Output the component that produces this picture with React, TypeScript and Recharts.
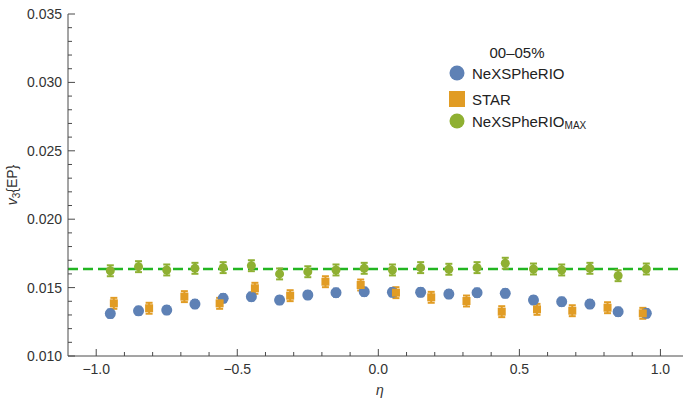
// v3{EP} vs eta, 00-05% centrality — NeXSPheRIO vs STAR (Recharts)
import { ScatterChart, Scatter, XAxis, YAxis, ErrorBar, ReferenceLine } from 'recharts';

const MODEL_ETA = [
  -0.95, -0.85, -0.75, -0.65, -0.55, -0.45, -0.35, -0.25, -0.15, -0.05,
  0.05, 0.15, 0.25, 0.35, 0.45, 0.55, 0.65, 0.75, 0.85, 0.95,
];
const NEXUS_V3 = [
  0.0131, 0.0133, 0.01336, 0.0138, 0.01422, 0.01434, 0.01409, 0.01446, 0.01463, 0.0147,
  0.01466, 0.01466, 0.01453, 0.01463, 0.01458, 0.01409, 0.01397, 0.0138, 0.01324, 0.01312,
];
const NEXUS_ERR = [
  0.0003, 0.0003, 0.0003, 0.0003, 0.0003, 0.0003, 0.0003, 0.0003, 0.0003, 0.0003,
  0.0003, 0.0003, 0.0003, 0.0003, 0.0003, 0.0003, 0.0003, 0.0003, 0.0003, 0.0003,
];
const MAX_V3 = [
  0.01623, 0.01653, 0.01629, 0.01641, 0.01646, 0.0166, 0.016, 0.01616, 0.01629, 0.01641,
  0.01629, 0.01646, 0.01634, 0.01646, 0.01678, 0.01636, 0.01629, 0.01641, 0.01587, 0.01636,
];
const MAX_ERR = [
  0.0004, 0.0004, 0.0004, 0.0004, 0.0004, 0.0004, 0.0004, 0.0004, 0.0004, 0.0004,
  0.0004, 0.0004, 0.0004, 0.0004, 0.0004, 0.0004, 0.0004, 0.0004, 0.0004, 0.0004,
];
const STAR_ETA = [
  -0.9375, -0.8125, -0.6875, -0.5625, -0.4375, -0.3125, -0.1875, -0.0625,
  0.0625, 0.1875, 0.3125, 0.4375, 0.5625, 0.6875, 0.8125, 0.9375,
];
const STAR_V3 = [
  0.01385, 0.01349, 0.01434, 0.01385, 0.01495, 0.01441, 0.01543, 0.01519,
  0.01463, 0.01429, 0.01402, 0.01324, 0.01341, 0.01331, 0.01353, 0.01312,
];
const STAR_ERR = [
  0.0004, 0.0004, 0.0004, 0.0004, 0.0004, 0.0004, 0.0004, 0.0004,
  0.0004, 0.0004, 0.0004, 0.0004, 0.0004, 0.0004, 0.0004, 0.0004,
];
const MAX_MEAN = 0.01636;

const X_TICKS = [
  -1.0, -0.9, -0.8, -0.7, -0.6, -0.5, -0.4, -0.3, -0.2, -0.1, 0,
  0.1, 0.2, 0.3, 0.4, 0.5, 0.6, 0.7, 0.8, 0.9, 1.0,
];
const X_MAJOR = [-1.0, -0.5, 0, 0.5, 1.0];
const Y_TICKS = [
  0.01, 0.011, 0.012, 0.013, 0.014, 0.015, 0.016, 0.017, 0.018, 0.019, 0.02,
  0.021, 0.022, 0.023, 0.024, 0.025, 0.026, 0.027, 0.028, 0.029, 0.03,
  0.031, 0.032, 0.033, 0.034, 0.035,
];
const Y_MAJOR = [0.01, 0.015, 0.02, 0.025, 0.03, 0.035];

const BLUE = '#5e81b5';
const ORANGE = '#e19c24';
const GREEN = '#8fb032';
const LINE_GREEN = '#22b522';
const AXIS = '#4a4a4a';
const FONT = '"Liberation Sans", Arial, sans-serif';

const nexus = MODEL_ETA.map((x, i) => ({ x, y: NEXUS_V3[i], err: NEXUS_ERR[i] }));
const nexusMax = MODEL_ETA.map((x, i) => ({ x, y: MAX_V3[i], err: MAX_ERR[i] }));
const star = STAR_ETA.map((x, i) => ({ x, y: STAR_V3[i], err: STAR_ERR[i] }));

const isMajor = (v: number, list: number[]) => list.some((m) => Math.abs(m - v) < 1e-9);

function XTick({ x, y, payload }: any) {
  const major = isMajor(payload.value, X_MAJOR);
  const label = payload.value < 0
    ? '\u2212' + Math.abs(payload.value).toFixed(1)
    : payload.value.toFixed(1);
  return (
    <g>
      <line x1={x} x2={x} y1={y} y2={y - (major ? 7 : 4)} stroke={AXIS} strokeWidth={1} />
      {major && (
        <text x={x} y={y + 18} textAnchor="middle" fontSize={14} fill="#333" fontFamily={FONT}>
          {label}
        </text>
      )}
    </g>
  );
}

function YTick({ x, y, payload }: any) {
  const major = isMajor(payload.value, Y_MAJOR);
  return (
    <g>
      <line x1={x} x2={x + (major ? 7 : 4)} y1={y} y2={y} stroke={AXIS} strokeWidth={1} />
      {major && (
        <text x={x - 6} y={y + 5} textAnchor="end" fontSize={14} fill="#333" fontFamily={FONT}>
          {payload.value.toFixed(3)}
        </text>
      )}
    </g>
  );
}

const circleShape = (color: string, r: number) => (props: any) =>
  <circle cx={props.cx} cy={props.cy} r={r} fill={color} />;

const squareShape = (color: string, s: number) => (props: any) =>
  <rect x={props.cx - s / 2} y={props.cy - s / 2} width={s} height={s} fill={color} />;

function LegendBox() {
  return (
    <svg width={684} height={400} style={{ position: 'absolute', left: 0, top: 0, pointerEvents: 'none' }}>
      <g fontFamily={FONT} fontSize={15} fill="#222">
        <text x={517} y={58} textAnchor="middle">00–05%</text>
        <circle cx={457} cy={73} r={7.5} fill={BLUE} />
        <text x={472} y={78.5}>NeXSPheRIO</text>
        <rect x={449} y={91} width={16} height={16} fill={ORANGE} />
        <text x={472} y={104.5}>STAR</text>
        <circle cx={457} cy={121} r={7.5} fill={GREEN} />
        <text x={472} y={126.5}>
          NeXSPheRIO<tspan fontSize={10} dy={2}>MAX</tspan>
        </text>
      </g>
      <text x={17} y={185} transform="rotate(-90 17 185)" textAnchor="middle" fontFamily={FONT} fontSize={14} fill="#333">
        <tspan fontStyle="italic">v</tspan>
        <tspan fontSize={10} dy={3}>3</tspan>
        <tspan dy={-3}>{'{EP}'}</tspan>
      </text>
      <text x={380} y={395} textAnchor="middle" fontFamily={FONT} fontSize={14} fontStyle="italic" fill="#333">
        η
      </text>
    </svg>
  );
}

export default function App() {
  return (
    <div style={{ position: 'absolute', left: 0, top: 0, width: 684, height: 400, background: '#fff' }}>
      <ScatterChart width={684} height={400} margin={{ top: 14, right: 1, bottom: 0, left: 2 }}>
        <XAxis
          type="number"
          dataKey="x"
          domain={[-1.1, 1.08]}
          ticks={X_TICKS}
          interval={0}
          tick={<XTick />}
          tickSize={0}
          tickMargin={0}
          tickLine={false}
          height={44}
          stroke={AXIS}
          allowDataOverflow
        />
        <YAxis
          type="number"
          dataKey="y"
          domain={[0.01, 0.035]}
          ticks={Y_TICKS}
          interval={0}
          tick={<YTick />}
          tickSize={0}
          tickMargin={0}
          tickLine={false}
          width={66}
          stroke={AXIS}
          allowDataOverflow
        />
        <ReferenceLine y={MAX_MEAN} stroke={LINE_GREEN} strokeWidth={2.5} strokeDasharray="10 5" />
        <Scatter data={nexus} shape={circleShape(BLUE, 5.5)} isAnimationActive={false}>
          <ErrorBar dataKey="err" direction="y" width={3} stroke={BLUE} strokeWidth={2} />
        </Scatter>
        <Scatter data={star} shape={squareShape(ORANGE, 8)} isAnimationActive={false}>
          <ErrorBar dataKey="err" direction="y" width={3.5} stroke={ORANGE} strokeWidth={2} />
        </Scatter>
        <Scatter data={nexusMax} shape={circleShape(GREEN, 4.5)} isAnimationActive={false}>
          <ErrorBar dataKey="err" direction="y" width={3.5} stroke={GREEN} strokeWidth={2} />
        </Scatter>
      </ScatterChart>
      <LegendBox />
    </div>
  );
}
